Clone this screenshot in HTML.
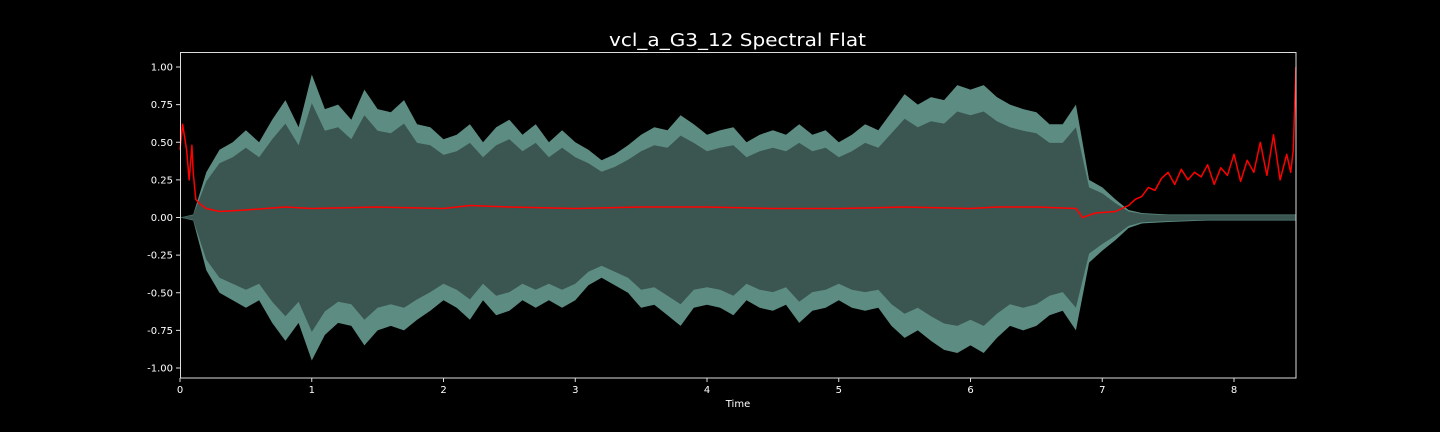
<!DOCTYPE html>
<html><head><meta charset="utf-8"><style>
html,body{margin:0;padding:0;background:#000;}
svg{display:block;font-family:"DejaVu Sans","Liberation Sans",sans-serif;}
</style></head><body>
<svg id="chart" width="1440" height="432" viewBox="0 0 1440 432">
<rect width="1440" height="432" fill="#000"/>
<text x="609" y="46" fill="#fff" font-size="18" textLength="257" lengthAdjust="spacingAndGlyphs">vcl_a_G3_12 Spectral Flat</text>
<g id="wave"></g>
<g id="flat"></g>
<rect x="180.5" y="52.5" width="1115.5" height="325.5" fill="none" stroke="#ddd" stroke-width="1"/>
<g id="xaxis"></g>
<g id="yaxis"></g>
<text x="738" y="407" fill="#fff" font-size="10" text-anchor="middle">Time</text>
</svg>
<script>
const envTimes = [0,0.1,0.2,0.3,0.4,0.5,0.6,0.7,0.8,0.9,1.0,1.1,1.2,1.3,1.4,1.5,1.6,1.7,1.8,1.9,2.0,2.1,2.2,2.3,2.4,2.5,2.6,2.7,2.8,2.9,3.0,3.1,3.2,3.3,3.4,3.5,3.6,3.7,3.8,3.9,4.0,4.1,4.2,4.3,4.4,4.5,4.6,4.7,4.8,4.9,5.0,5.1,5.2,5.3,5.4,5.5,5.6,5.7,5.8,5.9,6.0,6.1,6.2,6.3,6.4,6.5,6.6,6.7,6.8,6.9,7.0,7.1,7.2,7.3,7.5,7.8,8.1,8.47];
const envUpper = [0,0.02,0.3,0.45,0.5,0.58,0.5,0.65,0.78,0.6,0.95,0.72,0.75,0.65,0.85,0.72,0.7,0.78,0.62,0.6,0.52,0.55,0.62,0.5,0.6,0.65,0.55,0.62,0.5,0.58,0.5,0.45,0.38,0.42,0.48,0.55,0.6,0.58,0.68,0.62,0.55,0.58,0.6,0.5,0.55,0.58,0.55,0.62,0.55,0.58,0.5,0.55,0.62,0.58,0.7,0.82,0.75,0.8,0.78,0.88,0.85,0.88,0.8,0.75,0.72,0.7,0.62,0.62,0.75,0.25,0.2,0.12,0.05,0.03,0.02,0.02,0.02,0.02];
const envLower = [0,0.02,0.35,0.5,0.55,0.6,0.55,0.7,0.82,0.7,0.95,0.78,0.7,0.72,0.85,0.75,0.72,0.75,0.68,0.62,0.55,0.6,0.68,0.55,0.65,0.62,0.55,0.6,0.55,0.6,0.55,0.45,0.4,0.45,0.5,0.6,0.58,0.65,0.72,0.6,0.58,0.6,0.65,0.55,0.6,0.62,0.58,0.7,0.62,0.6,0.55,0.6,0.62,0.6,0.72,0.8,0.75,0.82,0.88,0.9,0.85,0.9,0.8,0.72,0.75,0.72,0.65,0.62,0.75,0.3,0.22,0.15,0.07,0.04,0.03,0.02,0.02,0.02];
const flatTimes = [0,0.02,0.05,0.07,0.09,0.1,0.12,0.15,0.2,0.3,0.5,0.8,1.0,1.5,2.0,2.2,2.5,3.0,3.5,4.0,4.5,5.0,5.5,6.0,6.2,6.5,6.8,6.85,6.95,7.1,7.2,7.25,7.3,7.35,7.4,7.45,7.5,7.55,7.6,7.65,7.7,7.75,7.8,7.85,7.9,7.95,8.0,8.05,8.1,8.15,8.2,8.25,8.3,8.35,8.4,8.43,8.45,8.47];
const flatValues = [0.45,0.62,0.45,0.25,0.48,0.3,0.12,0.09,0.06,0.04,0.05,0.07,0.06,0.07,0.06,0.08,0.07,0.06,0.07,0.07,0.06,0.06,0.07,0.06,0.07,0.07,0.06,0.0,0.03,0.04,0.08,0.12,0.14,0.2,0.18,0.26,0.3,0.22,0.32,0.25,0.3,0.27,0.35,0.22,0.33,0.28,0.42,0.24,0.38,0.3,0.5,0.28,0.55,0.25,0.42,0.3,0.45,1.0];
const xTicks = [0,1,2,3,4,5,6,7,8];
const yTicks = [1.0,0.75,0.5,0.25,0,-0.25,-0.5,-0.75,-1.0];

const X0=180, XS=131.75, Y0=217.5, YS=150.5;
const xs = t => X0 + t*XS;
const ys = v => Y0 - v*YS;
const NS='http://www.w3.org/2000/svg';
function mk(tag, attrs, parent){const e=document.createElementNS(NS,tag);for(const k in attrs)e.setAttribute(k,attrs[k]);parent.appendChild(e);return e;}

const wave=document.getElementById('wave');
function envPath(scale){
  let d='';
  envTimes.forEach((t,i)=>{d+=(i?'L':'M')+xs(t).toFixed(1)+','+ys(envUpper[i]*scale).toFixed(1);});
  for(let i=envTimes.length-1;i>=0;i--){d+='L'+xs(envTimes[i]).toFixed(1)+','+ys(-envLower[i]*scale).toFixed(1);}
  return d+'Z';
}
const outer=mk('path',{d:envPath(1),fill:'#5d8c82'},wave);


const inner=mk('path',{d:envPath(0.8),fill:'#3b5650'},wave);



const flat=document.getElementById('flat');
let fd='';
flatTimes.forEach((t,i)=>{fd+=(i?'L':'M')+xs(t).toFixed(1)+','+ys(flatValues[i]).toFixed(1);});
const fl=mk('path',{d:fd,fill:'none',stroke:'#ff0000','stroke-width':1.5,'stroke-linejoin':'round'},flat);



const xa=document.getElementById('xaxis');
xTicks.forEach(t=>{
  const x=xs(t);
  mk('line',{x1:x,x2:x,y1:378,y2:382,stroke:'#ddd'},xa);
  const tx=mk('text',{x:x,y:393,fill:'#fff','font-size':10,'text-anchor':'middle'},xa);
  tx.textContent=String(t);
  
  
});
const ya=document.getElementById('yaxis');
yTicks.forEach(v=>{
  const y=ys(v);
  mk('line',{x1:176,x2:180,y1:y,y2:y,stroke:'#ddd'},ya);
  const tx=mk('text',{x:173,y:y+3.5,fill:'#fff','font-size':10,'text-anchor':'end'},ya);
  tx.textContent=v.toFixed(2);
  
  
});
</script>
</body></html>
